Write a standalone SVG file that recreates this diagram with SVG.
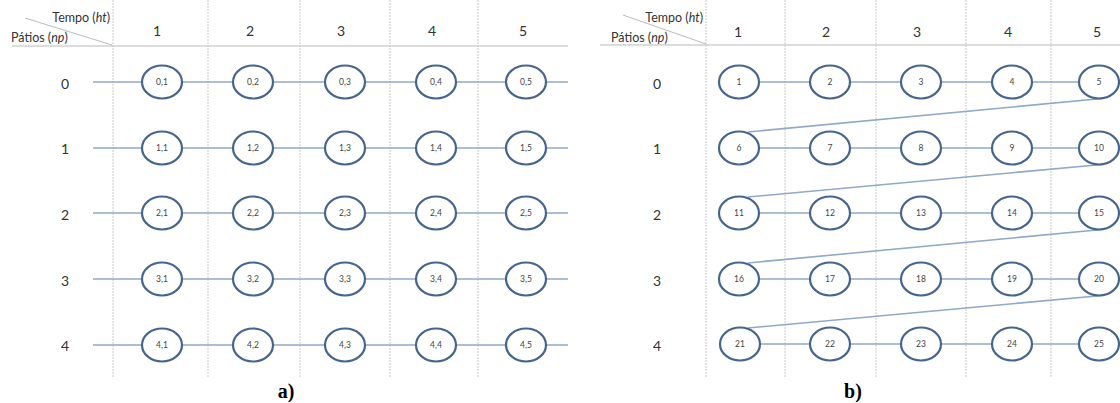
<svg xmlns="http://www.w3.org/2000/svg" width="1120" height="403" viewBox="0 0 1120 403">
<style>
.grid{stroke:#c9c9c9;stroke-width:1;stroke-dasharray:2 1;fill:none}
.hdr{stroke:#d0d0d0;stroke-width:1.5;fill:none}
.diag{stroke:#bbbbbb;stroke-width:1;fill:none}
.conn{stroke:#8fa9c6;stroke-width:1.6;fill:none}
.node ellipse{fill:#ffffff;stroke:#46658e;stroke-width:2.2}
.node text{font-family:Lato,"Open Sans",sans-serif;font-size:8.5px;fill:#444;text-anchor:middle;dominant-baseline:central}
.lab{font-family:Lato,"Open Sans",sans-serif;font-size:14px;fill:#333;text-anchor:middle;dominant-baseline:central}
.hd{font-family:Lato,"Open Sans",sans-serif;font-size:12.5px;fill:#333}
.cap{font-family:"Liberation Serif",serif;font-size:20px;font-weight:bold;fill:#000;text-anchor:middle}
</style>
<rect width="1120" height="403" fill="#fff"/>
<g id="grid-a">
<line class="grid" x1="113" y1="0" x2="113" y2="377"/>
<line class="grid" x1="208" y1="0" x2="208" y2="377"/>
<line class="grid" x1="300" y1="0" x2="300" y2="377"/>
<line class="grid" x1="390" y1="0" x2="390" y2="377"/>
<line class="grid" x1="478" y1="0" x2="478" y2="377"/>
<line class="hdr" x1="12" y1="46" x2="568" y2="46"/>
<line class="diag" x1="25" y1="18" x2="112" y2="45"/>
<text class="hd" x="110" y="22" text-anchor="end">Tempo (<tspan font-style="italic">ht</tspan>)</text>
<text class="hd" x="11" y="42">Pátios (<tspan font-style="italic">np</tspan>)</text>
<text class="lab" x="157" y="30">1</text>
<text class="lab" x="250" y="30">2</text>
<text class="lab" x="341" y="30">3</text>
<text class="lab" x="432" y="30">4</text>
<text class="lab" x="523" y="30">5</text>
<text class="lab" x="65" y="83">0</text>
<text class="lab" x="65" y="148">1</text>
<text class="lab" x="65" y="214">2</text>
<text class="lab" x="65" y="280">3</text>
<text class="lab" x="65" y="345">4</text>
</g>
<g id="grid-b">
<line class="grid" x1="706" y1="0" x2="706" y2="377"/>
<line class="grid" x1="785" y1="0" x2="785" y2="377"/>
<line class="grid" x1="876" y1="0" x2="876" y2="377"/>
<line class="grid" x1="966" y1="0" x2="966" y2="377"/>
<line class="grid" x1="1051" y1="0" x2="1051" y2="377"/>
<line class="hdr" x1="600" y1="45" x2="1120" y2="45"/>
<line class="diag" x1="623" y1="15" x2="706" y2="44"/>
<text class="hd" x="703" y="22" text-anchor="end">Tempo (<tspan font-style="italic">ht</tspan>)</text>
<text class="hd" x="611" y="42">Pátios (<tspan font-style="italic">np</tspan>)</text>
<text class="lab" x="738" y="31">1</text>
<text class="lab" x="826" y="31">2</text>
<text class="lab" x="917" y="31">3</text>
<text class="lab" x="1008" y="31">4</text>
<text class="lab" x="1097" y="31">5</text>
<text class="lab" x="657" y="83">0</text>
<text class="lab" x="657" y="148">1</text>
<text class="lab" x="657" y="214">2</text>
<text class="lab" x="657" y="280">3</text>
<text class="lab" x="657" y="345">4</text>
</g>
<g id="connectors">
<line class="conn" x1="93" y1="82" x2="568" y2="82"/>
<line class="conn" x1="93" y1="148" x2="568" y2="148"/>
<line class="conn" x1="93" y1="213" x2="568" y2="213"/>
<line class="conn" x1="93" y1="279" x2="568" y2="279"/>
<line class="conn" x1="93" y1="345" x2="568" y2="345"/>
<line class="conn" x1="739" y1="82" x2="1120" y2="82"/>
<line class="conn" x1="739" y1="148" x2="1120" y2="148"/>
<line class="conn" x1="739" y1="213" x2="1120" y2="213"/>
<line class="conn" x1="739" y1="279" x2="1120" y2="279"/>
<line class="conn" x1="739" y1="344" x2="1120" y2="344"/>
<line class="conn" x1="1102" y1="98.5" x2="748" y2="132"/>
<line class="conn" x1="1102" y1="164.5" x2="748" y2="197"/>
<line class="conn" x1="1102" y1="229.5" x2="748" y2="263"/>
<line class="conn" x1="1102" y1="295.5" x2="748" y2="328"/>
</g>
<g id="node-a-0-1" class="node"><ellipse cx="162" cy="82" rx="20" ry="16.5"/><text x="162" y="82">0,1</text></g>
<g id="node-a-0-2" class="node"><ellipse cx="253" cy="82" rx="20" ry="16.5"/><text x="253" y="82">0,2</text></g>
<g id="node-a-0-3" class="node"><ellipse cx="345" cy="82" rx="20" ry="16.5"/><text x="345" y="82">0,3</text></g>
<g id="node-a-0-4" class="node"><ellipse cx="436" cy="82" rx="20" ry="16.5"/><text x="436" y="82">0,4</text></g>
<g id="node-a-0-5" class="node"><ellipse cx="526" cy="82" rx="20" ry="16.5"/><text x="526" y="82">0,5</text></g>
<g id="node-a-1-1" class="node"><ellipse cx="162" cy="148" rx="20" ry="16.5"/><text x="162" y="148">1,1</text></g>
<g id="node-a-1-2" class="node"><ellipse cx="253" cy="148" rx="20" ry="16.5"/><text x="253" y="148">1,2</text></g>
<g id="node-a-1-3" class="node"><ellipse cx="345" cy="148" rx="20" ry="16.5"/><text x="345" y="148">1,3</text></g>
<g id="node-a-1-4" class="node"><ellipse cx="436" cy="148" rx="20" ry="16.5"/><text x="436" y="148">1,4</text></g>
<g id="node-a-1-5" class="node"><ellipse cx="526" cy="148" rx="20" ry="16.5"/><text x="526" y="148">1,5</text></g>
<g id="node-a-2-1" class="node"><ellipse cx="162" cy="213" rx="20" ry="16.5"/><text x="162" y="213">2,1</text></g>
<g id="node-a-2-2" class="node"><ellipse cx="253" cy="213" rx="20" ry="16.5"/><text x="253" y="213">2,2</text></g>
<g id="node-a-2-3" class="node"><ellipse cx="345" cy="213" rx="20" ry="16.5"/><text x="345" y="213">2,3</text></g>
<g id="node-a-2-4" class="node"><ellipse cx="436" cy="213" rx="20" ry="16.5"/><text x="436" y="213">2,4</text></g>
<g id="node-a-2-5" class="node"><ellipse cx="526" cy="213" rx="20" ry="16.5"/><text x="526" y="213">2,5</text></g>
<g id="node-a-3-1" class="node"><ellipse cx="162" cy="279" rx="20" ry="16.5"/><text x="162" y="279">3,1</text></g>
<g id="node-a-3-2" class="node"><ellipse cx="253" cy="279" rx="20" ry="16.5"/><text x="253" y="279">3,2</text></g>
<g id="node-a-3-3" class="node"><ellipse cx="345" cy="279" rx="20" ry="16.5"/><text x="345" y="279">3,3</text></g>
<g id="node-a-3-4" class="node"><ellipse cx="436" cy="279" rx="20" ry="16.5"/><text x="436" y="279">3,4</text></g>
<g id="node-a-3-5" class="node"><ellipse cx="526" cy="279" rx="20" ry="16.5"/><text x="526" y="279">3,5</text></g>
<g id="node-a-4-1" class="node"><ellipse cx="162" cy="345" rx="20" ry="16.5"/><text x="162" y="345">4,1</text></g>
<g id="node-a-4-2" class="node"><ellipse cx="253" cy="345" rx="20" ry="16.5"/><text x="253" y="345">4,2</text></g>
<g id="node-a-4-3" class="node"><ellipse cx="345" cy="345" rx="20" ry="16.5"/><text x="345" y="345">4,3</text></g>
<g id="node-a-4-4" class="node"><ellipse cx="436" cy="345" rx="20" ry="16.5"/><text x="436" y="345">4,4</text></g>
<g id="node-a-4-5" class="node"><ellipse cx="526" cy="345" rx="20" ry="16.5"/><text x="526" y="345">4,5</text></g>
<g id="node-b-1" class="node"><ellipse cx="739" cy="82" rx="20" ry="16.5"/><text x="739" y="82">1</text></g>
<g id="node-b-2" class="node"><ellipse cx="830" cy="82" rx="20" ry="16.5"/><text x="830" y="82">2</text></g>
<g id="node-b-3" class="node"><ellipse cx="921" cy="82" rx="20" ry="16.5"/><text x="921" y="82">3</text></g>
<g id="node-b-4" class="node"><ellipse cx="1012" cy="82" rx="20" ry="16.5"/><text x="1012" y="82">4</text></g>
<g id="node-b-5" class="node"><ellipse cx="1099" cy="82" rx="20" ry="16.5"/><text x="1099" y="82">5</text></g>
<g id="node-b-6" class="node"><ellipse cx="739" cy="148" rx="20" ry="16.5"/><text x="739" y="148">6</text></g>
<g id="node-b-7" class="node"><ellipse cx="830" cy="148" rx="20" ry="16.5"/><text x="830" y="148">7</text></g>
<g id="node-b-8" class="node"><ellipse cx="921" cy="148" rx="20" ry="16.5"/><text x="921" y="148">8</text></g>
<g id="node-b-9" class="node"><ellipse cx="1012" cy="148" rx="20" ry="16.5"/><text x="1012" y="148">9</text></g>
<g id="node-b-10" class="node"><ellipse cx="1099" cy="148" rx="20" ry="16.5"/><text x="1099" y="148">10</text></g>
<g id="node-b-11" class="node"><ellipse cx="739" cy="213" rx="20" ry="16.5"/><text x="739" y="213">11</text></g>
<g id="node-b-12" class="node"><ellipse cx="830" cy="213" rx="20" ry="16.5"/><text x="830" y="213">12</text></g>
<g id="node-b-13" class="node"><ellipse cx="921" cy="213" rx="20" ry="16.5"/><text x="921" y="213">13</text></g>
<g id="node-b-14" class="node"><ellipse cx="1012" cy="213" rx="20" ry="16.5"/><text x="1012" y="213">14</text></g>
<g id="node-b-15" class="node"><ellipse cx="1099" cy="213" rx="20" ry="16.5"/><text x="1099" y="213">15</text></g>
<g id="node-b-16" class="node"><ellipse cx="739" cy="279" rx="20" ry="16.5"/><text x="739" y="279">16</text></g>
<g id="node-b-17" class="node"><ellipse cx="830" cy="279" rx="20" ry="16.5"/><text x="830" y="279">17</text></g>
<g id="node-b-18" class="node"><ellipse cx="921" cy="279" rx="20" ry="16.5"/><text x="921" y="279">18</text></g>
<g id="node-b-19" class="node"><ellipse cx="1012" cy="279" rx="20" ry="16.5"/><text x="1012" y="279">19</text></g>
<g id="node-b-20" class="node"><ellipse cx="1099" cy="279" rx="20" ry="16.5"/><text x="1099" y="279">20</text></g>
<g id="node-b-21" class="node"><ellipse cx="740" cy="344" rx="20" ry="16.5"/><text x="740" y="344">21</text></g>
<g id="node-b-22" class="node"><ellipse cx="830" cy="344" rx="20" ry="16.5"/><text x="830" y="344">22</text></g>
<g id="node-b-23" class="node"><ellipse cx="921" cy="344" rx="20" ry="16.5"/><text x="921" y="344">23</text></g>
<g id="node-b-24" class="node"><ellipse cx="1012" cy="344" rx="20" ry="16.5"/><text x="1012" y="344">24</text></g>
<g id="node-b-25" class="node"><ellipse cx="1099" cy="344" rx="20" ry="16.5"/><text x="1099" y="344">25</text></g>
<text class="cap" x="286" y="398">a)</text>
<text class="cap" x="853" y="398">b)</text>
</svg>
